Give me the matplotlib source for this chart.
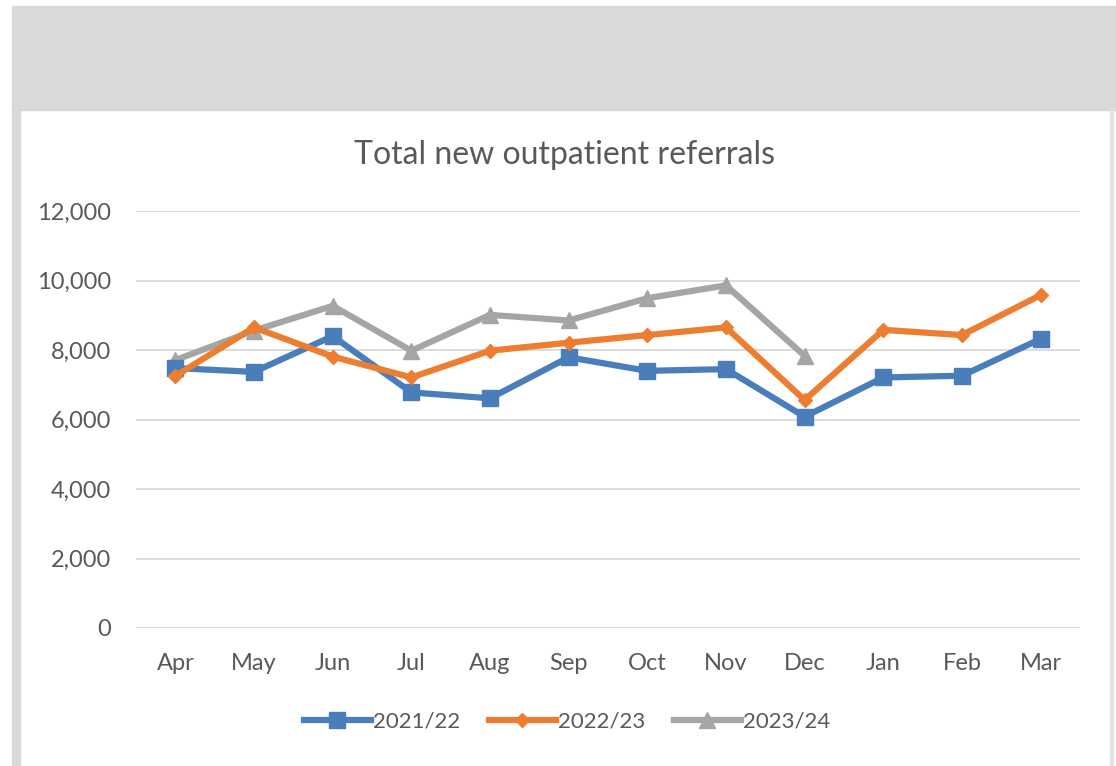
import matplotlib.pyplot as plt
from matplotlib.patches import Rectangle

months = ['Apr', 'May', 'Jun', 'Jul', 'Aug', 'Sep', 'Oct', 'Nov', 'Dec', 'Jan', 'Feb', 'Mar']
fy2122 = [7480, 7370, 8400, 6780, 6610, 7790, 7400, 7450, 6080, 7210, 7260, 8320]
fy2223 = [7250, 8650, 7810, 7210, 7980, 8210, 8430, 8650, 6560, 8580, 8430, 9580]
fy2324 = [7710, 8560, 9270, 7980, 9010, 8850, 9490, 9860, 7830]
yticks = [0, 2000, 4000, 6000, 8000, 10000, 12000]

W, H = 1116, 766
fig = plt.figure(figsize=(W / 100, H / 100), dpi=100, facecolor='white')
plt.rcParams['font.family'] = ['Lato', 'DejaVu Sans']

# grey frame around the chart (screenshot of a report)
grey = '#d9d9d9'
fig.patches.append(Rectangle((12 / W, 1 - 110 / H), 1 - 12 / W, 104 / H,
                             transform=fig.transFigure, color=grey, zorder=0))
fig.patches.append(Rectangle((12 / W, 0), 8 / W, 1 - 110 / H,
                             transform=fig.transFigure, color=grey, zorder=0))
fig.patches.append(Rectangle((1110 / W, 0), 3 / W, 1 - 110 / H,
                             transform=fig.transFigure, color='#e4e4e4', zorder=0))

# plot area in pixels
left, right, top, bottom = 136, 1080, 211, 628
ax = fig.add_axes([left / W, 1 - bottom / H, (right - left) / W, (bottom - top) / H])
ax.set_facecolor('none')

x = list(range(len(months)))
ax.plot(x, fy2122, color='#4a7ebb', lw=4.5, marker='s', ms=11, label='2021/22', zorder=3)
ax.plot(x, fy2223, color='#ed7d31', lw=4.5, marker='D', ms=7, label='2022/23', zorder=4)
ax.plot(x[:len(fy2324)], fy2324, color='#a5a5a5', lw=4.5, marker='^', ms=11, label='2023/24', zorder=2)

ax.set_xlim(-0.5, 11.5)
ax.set_ylim(0, 12000)
ax.set_yticks(yticks)
ax.set_yticklabels([f'{v:,}' for v in yticks])
ax.set_xticks(x)
ax.set_xticklabels(months)
ax.grid(axis='y', color='#d9d9d9', lw=1.3)
ax.set_axisbelow(True)
for s in ax.spines.values():
    s.set_visible(False)
ax.tick_params(length=0, labelsize=17, colors='#595959')
ax.tick_params(axis='y', pad=18)
ax.tick_params(axis='x', pad=18)

fig.text(564 / W, 1 - 155 / H, 'Total new outpatient referrals', ha='center', va='center',
         fontsize=23, color='#595959')

fig.legend(loc='center', bbox_to_anchor=(567 / W, 1 - 722 / H), ncol=3, frameon=False,
           fontsize=16, labelcolor='#595959', handlelength=3.0, handletextpad=0.1,
           columnspacing=1.3)

fig.savefig('out.png', dpi=100, facecolor='white')
